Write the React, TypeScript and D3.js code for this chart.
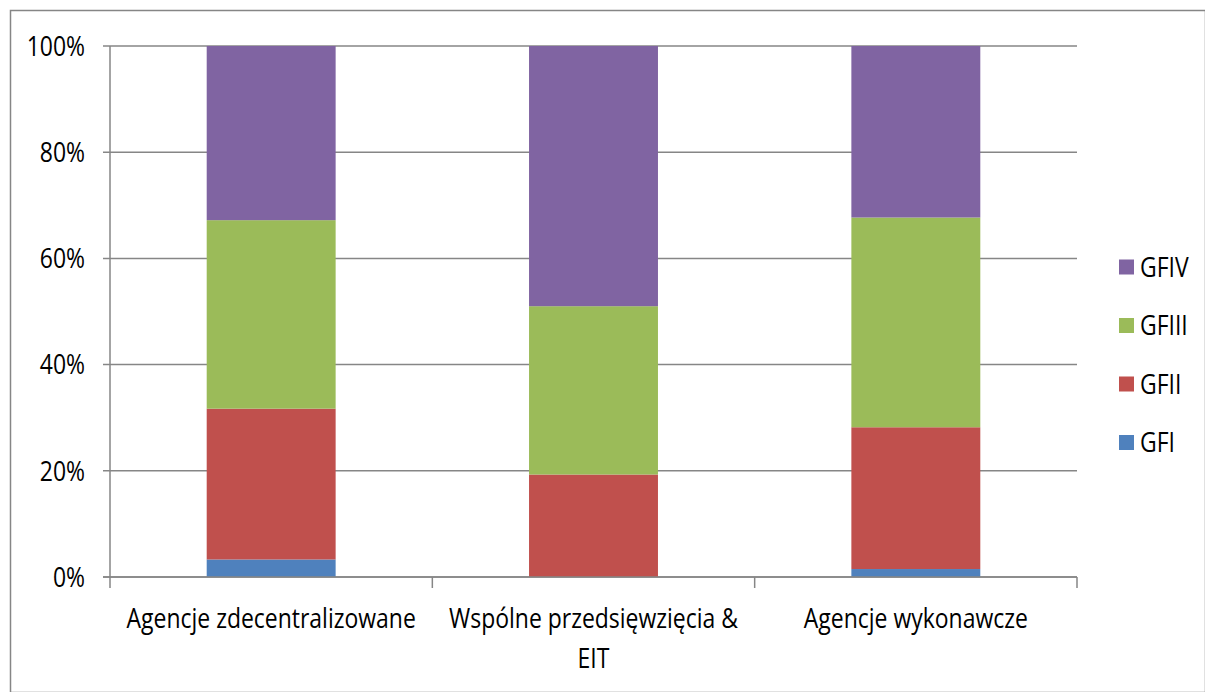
import { useEffect, useRef } from "react";
import * as d3 from "d3";

const categories = [
  ["Agencje zdecentralizowane"],
  ["Wspólne przedsięwzięcia &", "EIT"],
  ["Agencje wykonawcze"],
];
const seriesNames = ["GFI", "GFII", "GFIII", "GFIV"];
const seriesColors = ["#4F81BD", "#C0504D", "#9BBB59", "#8064A2"];
const gfi = [3.3, 0, 1.5];
const gfii = [28.4, 19.3, 26.7];
const gfiii = [35.5, 31.7, 39.5];
const gfiv = [32.8, 49.0, 32.3];
const yTicks = [0, 20, 40, 60, 80, 100];

const FONT = "'Open Sans', sans-serif";
const FS = 28;
const SX = 0.82; // narrow the glyphs, like Calibri

export default function App() {
  const ref = useRef<SVGSVGElement>(null);

  useEffect(() => {
    const W = 1205,
      H = 692;
    const margin = { top: 46, right: 128, bottom: 115, left: 110 };
    const width = W - margin.left - margin.right;
    const height = H - margin.top - margin.bottom;
    const grid = "#868686";

    const svg = d3.select(ref.current);
    svg.selectAll("*").remove();

    const label = (sel: any, tx: number, ty: number, txt: string, anchor: string) =>
      sel
        .append("text")
        .attr("transform", `translate(${tx},${ty}) scale(${SX},1)`)
        .attr("dy", anchor === "middle-top" ? 0 : "0.35em")
        .attr("text-anchor", anchor === "middle-top" ? "middle" : anchor)
        .attr("font-family", FONT)
        .attr("font-size", FS)
        .attr("fill", "#000")
        .text(txt);

    // outer frame
    svg
      .append("rect")
      .attr("x", 10.5)
      .attr("y", 10.5)
      .attr("width", W - 10)
      .attr("height", H - 10)
      .attr("fill", "none")
      .attr("stroke", grid)
      .attr("stroke-width", 1.5);

    const g = svg
      .append("g")
      .attr("transform", `translate(${margin.left},${margin.top})`);

    const x = d3
      .scaleBand<number>()
      .domain(categories.map((_, i) => i))
      .range([0, width])
      .padding(0);
    const y = d3.scaleLinear().domain([0, 100]).range([height, 0]);

    // grid lines + y labels
    yTicks.forEach((t) => {
      g.append("line")
        .attr("x1", -7)
        .attr("x2", width)
        .attr("y1", y(t))
        .attr("y2", y(t))
        .attr("stroke", grid)
        .attr("stroke-width", 1.5);
      label(g, -25, y(t), t + "%", "end");
    });

    // left axis
    g.append("line")
      .attr("x1", 0)
      .attr("x2", 0)
      .attr("y1", 0)
      .attr("y2", height)
      .attr("stroke", grid)
      .attr("stroke-width", 1.5);

    // x ticks
    d3.range(categories.length + 1).forEach((i) => {
      const xx = i === categories.length ? width : (x(i) as number);
      g.append("line")
        .attr("x1", xx)
        .attr("x2", xx)
        .attr("y1", height)
        .attr("y2", height + 11)
        .attr("stroke", grid)
        .attr("stroke-width", 1.5);
    });

    // stacked bars
    const rows = categories.map((_, i) => ({
      GFI: gfi[i],
      GFII: gfii[i],
      GFIII: gfiii[i],
      GFIV: gfiv[i],
    }));
    const stack = d3.stack<any>().keys(seriesNames)(rows);
    const barW = x.bandwidth() * 0.4;

    stack.forEach((layer, si) => {
      g.selectAll(null)
        .data(layer)
        .enter()
        .append("rect")
        .attr("x", (_, i) => (x(i) as number) + (x.bandwidth() - barW) / 2)
        .attr("width", barW)
        .attr("y", (d) => y(d[1]))
        .attr("height", (d) => y(d[0]) - y(d[1]))
        .attr("fill", seriesColors[si]);
    });

    // x axis line
    g.append("line")
      .attr("x1", -7)
      .attr("x2", width)
      .attr("y1", height)
      .attr("y2", height)
      .attr("stroke", grid)
      .attr("stroke-width", 1.5);

    // category labels
    categories.forEach((lines, i) => {
      const cx = (x(i) as number) + x.bandwidth() / 2;
      lines.forEach((line, li) => {
        label(g, cx, height + 51 + li * 40, line, "middle-top");
      });
    });

    // legend
    const legendItems = seriesNames.map((n, i) => ({ n, c: seriesColors[i] })).reverse();
    legendItems.forEach((d, i) => {
      const cy = 267 + i * 58.5;
      svg
        .append("rect")
        .attr("x", 1119)
        .attr("y", cy - 7.5)
        .attr("width", 15)
        .attr("height", 15)
        .attr("fill", d.c);
      label(svg, 1140, cy, d.n, "start");
    });
  }, []);

  return (
    <svg
      ref={ref}
      width={1205}
      height={692}
      style={{ position: "absolute", left: 0, top: 0, background: "#fff" }}
    />
  );
}
